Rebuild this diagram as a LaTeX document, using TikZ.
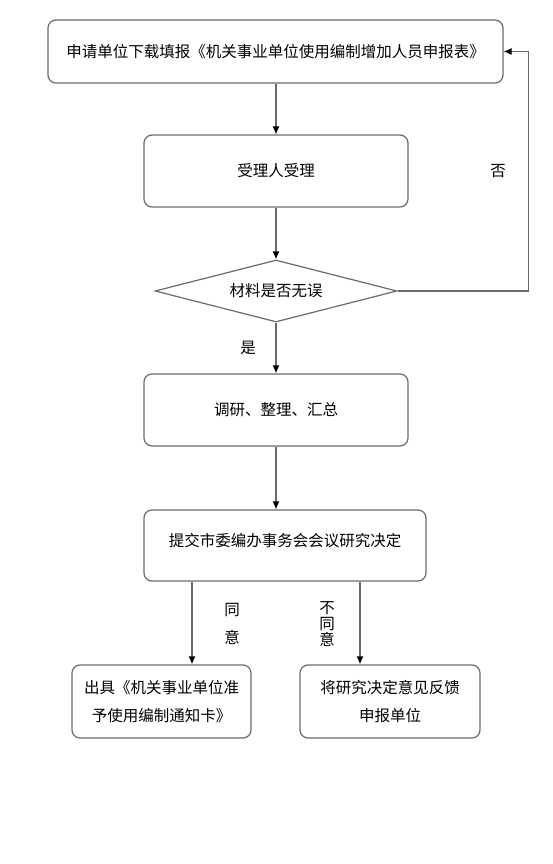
\documentclass[tikz,border=0pt]{standalone}
\usepackage{fontspec}
\setmainfont{Noto Sans CJK SC}
\usepackage{tikz}
\usetikzlibrary{arrows.meta}
\usetikzlibrary{shapes.geometric}
\usetikzlibrary{positioning}
\definecolor{linegray}{HTML}{6A6A6A}
\tikzset{box/.style = {draw = linegray, line width = 1.2pt, rounded corners = 8pt,
                       align = center, inner sep = 0}}
\tikzset{check/.style = {draw = linegray, line width = 1.2pt, diamond, aspect = 3.9,
                         inner sep = 0, minimum width = 242pt, minimum height = 62pt}}
\tikzset{arr/.style = {draw = linegray, line width = 1.2pt,
                       -{Latex[length = 8pt, width = 7pt, color = black]}}}
\tikzset{lbl/.style = {inner sep = 0, align = center}}

\begin{document}
\begin{tikzpicture}[x = 1pt, y = -1pt, font = \fontsize{15.5}{28}\selectfont]
      \useasboundingbox (0, 0) rectangle (552, 864);

      \node [box, minimum width = 455pt, minimum height = 63pt] (apply) at (275.5, 51.5)
            {申请单位下载填报《机关事业单位使用编制增加人员申报表》};
      \node [box, minimum width = 264pt, minimum height = 72pt] (accept) at (276, 171) {受理人受理};
      \node [check] (verify) at (276, 291) {材料是否无误};
      \node [box, minimum width = 264pt, minimum height = 72pt] (survey) at (276, 410) {调研、整理、汇总};
      \node [box, minimum width = 282pt, minimum height = 71pt, text depth = 12pt]
            (submit) at (285, 545.5) {提交市委编办事务会会议研究决定};
      \node [box, minimum width = 179pt, minimum height = 73pt] (grant) at (161.5, 701.5)
            {出具《机关事业单位准\\予使用编制通知卡》};
      \node [box, minimum width = 180pt, minimum height = 73pt] (reject) at (390, 701.5)
            {将研究决定意见反馈\\申报单位};

      \coordinate (yesx) at (192, 0);
      \coordinate (nox) at (360, 0);

      \draw [arr] (apply.south -| accept) -- (accept.north);
      \draw [arr] (accept) -- (verify);
      \draw [arr] (verify.east) -- ++(131, 0) |- (apply.east);
      \draw [arr] (verify) -- (survey);
      \draw [arr] (survey.south -| verify) -- (submit.north -| verify);
      \draw [arr] (submit.south -| yesx) -- (grant.north -| yesx);
      \draw [arr] (submit.south -| nox) -- (reject.north -| nox);

      \node [lbl] (nolbl) at (498, 171) {否};
      \node [lbl] (yeslbl) at (248, 348) {是};
      \node [lbl, font = \fontsize{15.5}{28}\selectfont] (agreelbl) at (232, 624) {同\\意};
      \node [lbl, font = \fontsize{15.5}{16}\selectfont] (disagreelbl) at (327, 624) {不\\同\\意};
    \end{tikzpicture}
\end{document}
